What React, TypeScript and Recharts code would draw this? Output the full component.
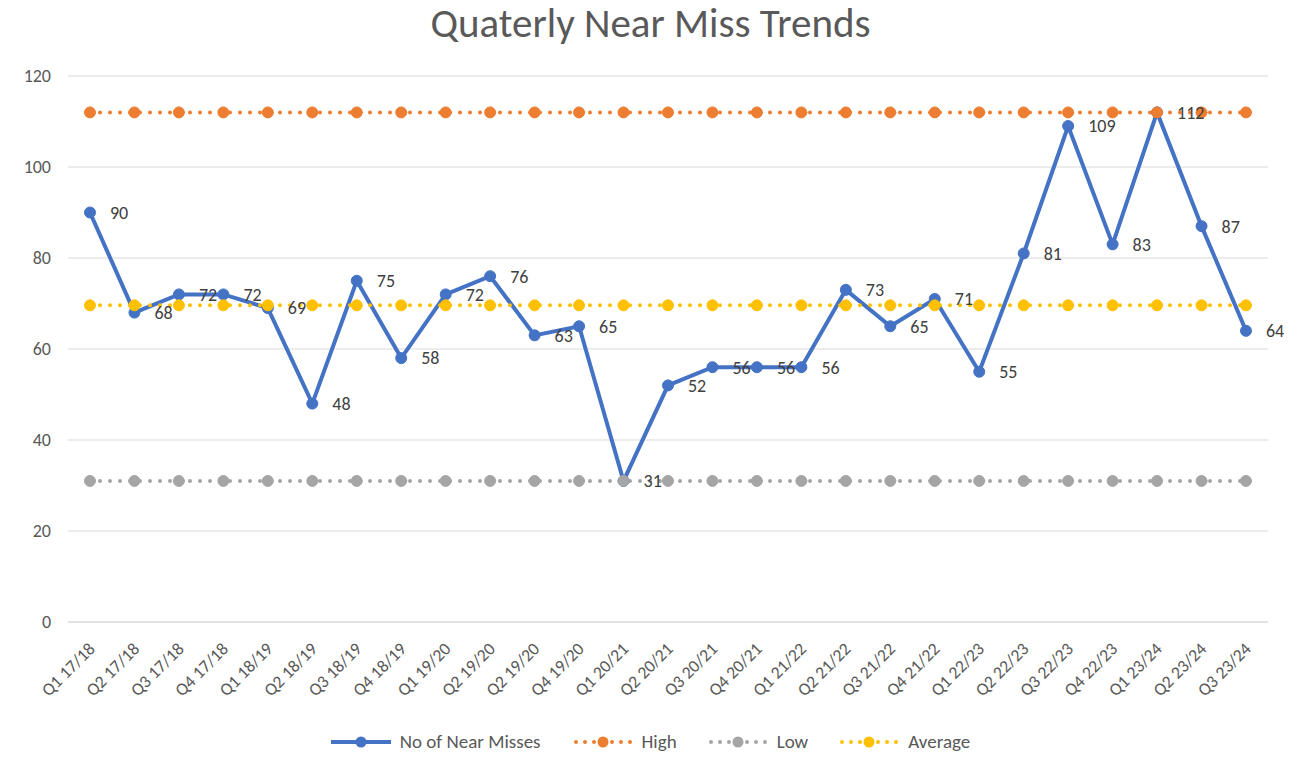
import React from 'react';
import {
  ComposedChart,
  Line,
  XAxis,
  YAxis,
  CartesianGrid,
  LabelList,
} from 'recharts';

const quarters = [
  'Q1 17/18', 'Q2 17/18', 'Q3 17/18', 'Q4 17/18',
  'Q1 18/19', 'Q2 18/19', 'Q3 18/19', 'Q4 18/19',
  'Q1 19/20', 'Q2 19/20', 'Q2 19/20', 'Q4 19/20',
  'Q1 20/21', 'Q2 20/21', 'Q3 20/21', 'Q4 20/21',
  'Q1 21/22', 'Q2 21/22', 'Q3 21/22', 'Q4 21/22',
  'Q1 22/23', 'Q2 22/23', 'Q3 22/23', 'Q4 22/23',
  'Q1 23/24', 'Q2 23/24', 'Q3 23/24',
];

const nearMisses = [
  90, 68, 72, 72, 69, 48, 75, 58, 72, 76, 63, 65, 31, 52,
  56, 56, 56, 73, 65, 71, 55, 81, 109, 83, 112, 87, 64,
];

const highValue = 112;
const lowValue = 31;
const averageValue = 69.6;

const yTicks = [0, 20, 40, 60, 80, 100, 120];

const FONT = 'Carlito, Calibri, Lato, "Open Sans", sans-serif';
const BLUE = '#4472C4';
const ORANGE = '#ED7D31';
const GREY = '#A5A5A5';
const YELLOW = '#FFC000';
const TEXT = '#595959';

// idx keeps categories unique (the source has "Q2 19/20" twice)
const data = quarters.map((q, i) => ({
  idx: i,
  quarter: q,
  value: nearMisses[i],
  high: highValue,
  low: lowValue,
  average: averageValue,
}));

const XTick = (props: any) => {
  const { x, y, payload } = props;
  return (
    <g transform={`translate(${x + 6},${y + 20})`}>
      <text
        transform="rotate(-45)"
        textAnchor="end"
        fill={TEXT}
        fontSize={17.5}
        fontFamily={FONT}
      >
        {quarters[payload.value]}
      </text>
    </g>
  );
};

const dotted = (color: string) => ({
  stroke: color,
  strokeWidth: 4,
  strokeDasharray: '0 10',
  strokeLinecap: 'round' as const,
  dot: { r: 5.5, fill: color, stroke: color, strokeWidth: 1, strokeDasharray: '' },
});

const LegendItem = ({ color, label, solid, gap }: { color: string; label: string; solid?: boolean; gap: number }) => (
  <span style={{ display: 'inline-flex', alignItems: 'center', marginRight: gap }}>
    <svg width={60} height={14} style={{ marginRight: 9 }}>
      {solid ? (
        <line x1={0} y1={7} x2={60} y2={7} stroke={color} strokeWidth={4} />
      ) : (
        <line x1={3} y1={7} x2={58} y2={7} stroke={color} strokeWidth={4}
          strokeDasharray="0 9" strokeLinecap="round" />
      )}
      <circle cx={30} cy={7} r={5.5} fill={color} />
    </svg>
    {label}
  </span>
);

export default function App() {
  return (
    <div style={{ position: 'absolute', left: 0, top: 0, width: 1301, height: 774, background: '#fff' }}>
      <div
        style={{
          position: 'absolute', left: 0, top: -2, width: 1301, textAlign: 'center',
          fontFamily: FONT, fontSize: 41, color: TEXT,
        }}
      >
        Quaterly Near Miss Trends
      </div>
      <ComposedChart
        width={1301}
        height={774}
        data={data}
        margin={{ top: 76, right: 33, bottom: 52, left: 0 }}
      >
        <CartesianGrid vertical={false} stroke="#D9D9D9" />
        <XAxis
          dataKey="idx"
          type="category"
          interval={0}
          height={100}
          padding={{ left: 22, right: 22 }}
          tick={XTick}
          tickLine={false}
          axisLine={{ stroke: '#D9D9D9' }}
        />
        <YAxis
          domain={[0, 120]}
          ticks={yTicks}
          width={68}
          axisLine={false}
          tickLine={false}
          tickSize={0}
          tickMargin={17}
          tick={{ fill: TEXT, fontSize: 18, fontFamily: FONT }}
        />
        <Line
          dataKey="value"
          name="No of Near Misses"
          stroke={BLUE}
          strokeWidth={4}
          dot={{ r: 5.5, fill: BLUE, stroke: BLUE, strokeWidth: 1 }}
          isAnimationActive={false}
        >
          <LabelList
            dataKey="value"
            position="right"
            offset={20}
            fill="#404040"
            fontSize={18}
            fontFamily={FONT}
          />
        </Line>
        <Line dataKey="high" name="High" {...dotted(ORANGE)} isAnimationActive={false} />
        <Line dataKey="low" name="Low" {...dotted(GREY)} isAnimationActive={false} />
        <Line dataKey="average" name="Average" {...dotted(YELLOW)} isAnimationActive={false} />
      </ComposedChart>
      <div
        style={{
          position: 'absolute', left: 0, top: 730, width: 1301,
          display: 'flex', justifyContent: 'center', alignItems: 'center',
          fontFamily: FONT, fontSize: 19, color: TEXT,
        }}
      >
        <LegendItem color={BLUE} label="No of Near Misses" solid gap={32} />
        <LegendItem color={ORANGE} label="High" gap={31} />
        <LegendItem color={GREY} label="Low" gap={31} />
        <LegendItem color={YELLOW} label="Average" gap={0} />
      </div>
    </div>
  );
}
